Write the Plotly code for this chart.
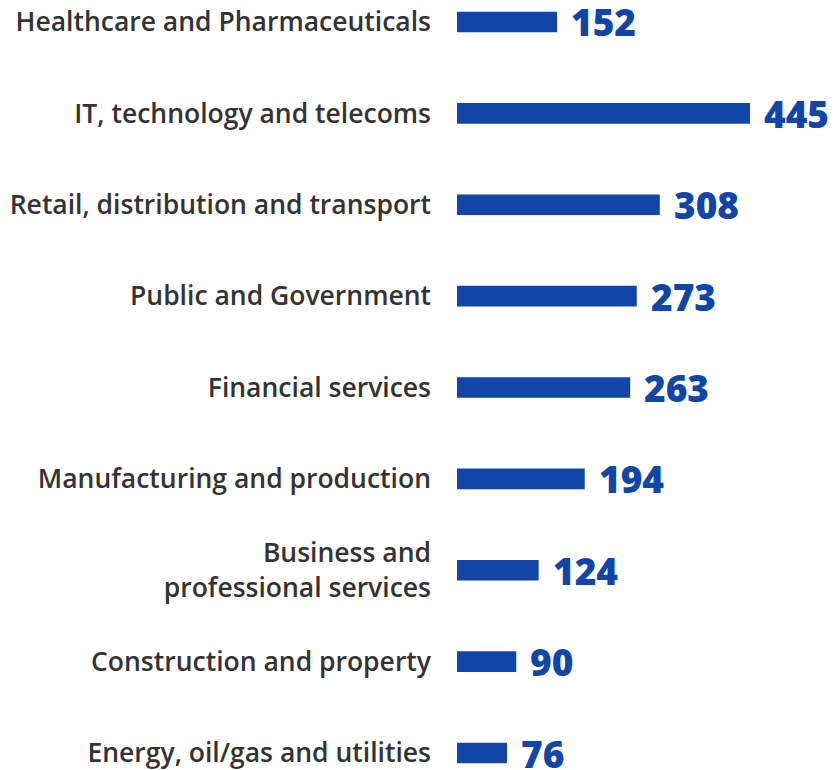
import plotly.graph_objects as go

categories = [
    "Healthcare and Pharmaceuticals",
    "IT, technology and telecoms",
    "Retail, distribution and transport",
    "Public and Government",
    "Financial services",
    "Manufacturing and production",
    "Business and<br>professional services",
    "Construction and property",
    "Energy, oil/gas and utilities",
]
values = [152, 445, 308, 273, 263, 194, 124, 90, 76]

BLUE = "#1145A8"

fig = go.Figure(go.Bar(
    y=categories, x=values, orientation="h",
    marker=dict(color=BLUE, line=dict(width=0)),
    width=0.225, hoverinfo="skip",
))

for c, v in zip(categories, values):
    fig.add_annotation(
        x=v, y=c, xref="x", yref="y", text=str(v), showarrow=False,
        xanchor="left", yanchor="middle", xshift=12, yshift=0,
        font=dict(family="Open Sans", size=37, color=BLUE, weight=800),
    )

fig.update_layout(
    width=828, height=762,
    margin=dict(l=449, r=0, t=0, b=0, autoexpand=False),
    paper_bgcolor="white", plot_bgcolor="white",
    showlegend=False,
    xaxis=dict(range=[0, 575.6], visible=False, fixedrange=True, automargin=False),
    yaxis=dict(
        type="category", categoryorder="array", categoryarray=categories,
        range=[8.186, -0.153], showgrid=False, zeroline=False, showline=False,
        ticks="", ticklabelstandoff=25, automargin=False,
        tickfont=dict(family="Open Sans", size=26.5, color="#333333", weight=600),
    ),
)

fig.write_html("out.html")
